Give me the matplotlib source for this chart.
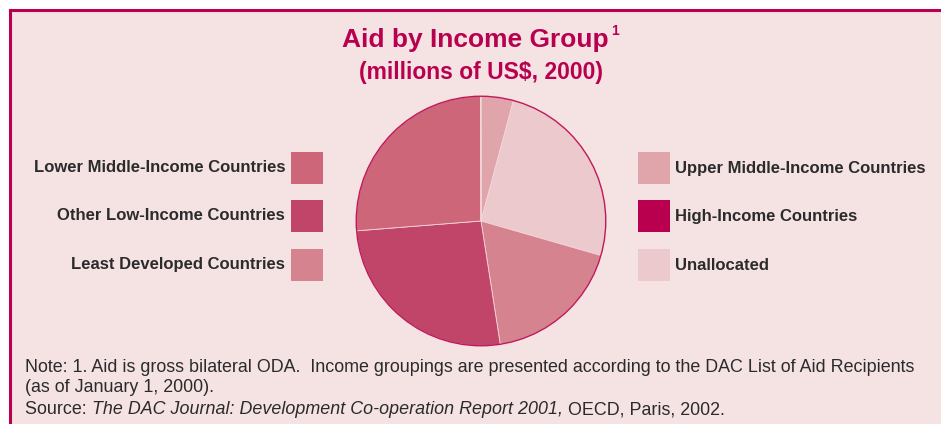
import matplotlib
matplotlib.use("Agg")
import matplotlib.pyplot as plt
from matplotlib.patches import Rectangle, Circle

# data (millions of US$)
groups = ["Upper Middle-Income Countries", "Unallocated", "Least Developed Countries",
          "Other Low-Income Countries", "Lower Middle-Income Countries", "High-Income Countries"]
values = [1510, 9100, 6510, 9440, 9440, 15]
colors = ["#e0a4ab", "#ecc9cd", "#d5838f", "#c14569", "#cd6679", "#b8004f"]

left_legend = ["Lower Middle-Income Countries", "Other Low-Income Countries", "Least Developed Countries"]
right_legend = ["Upper Middle-Income Countries", "High-Income Countries", "Unallocated"]

W, H = 941, 424
BG = "#f5e3e4"
ACCENT = "#b8004f"
DARK = "#2b2b2b"

fig = plt.figure(figsize=(W / 100, H / 100), dpi=100)
fig.patch.set_facecolor("white")

def fx(x):
    return x / W

def fy(y):
    return 1 - y / H

# panel background and border
fig.patches.append(Rectangle((fx(10), 0), 1 - fx(10), fy(10), transform=fig.transFigure,
                             facecolor=BG, edgecolor="none", zorder=-5))
fig.add_artist(plt.Line2D([fx(10), fx(10)], [0, fy(10)], color=ACCENT, lw=2.2))
fig.add_artist(plt.Line2D([fx(10), 1], [fy(10), fy(10)], color=ACCENT, lw=2.2))

# title, fitted to its width in the reference, then the footnote mark
title = fig.text(fx(342), fy(40), "Aid by Income Group", ha="left", va="center",
                 fontsize=20, fontweight="bold", color=ACCENT, family="Liberation Sans")
fig.canvas.draw()
tw = title.get_window_extent().width
title.set_fontsize(20 * 267 / tw)
fig.canvas.draw()
tb = title.get_window_extent()
fig.text((tb.x1 + 2) / W, fy(31), "1", ha="left", va="center",
         fontsize=10, fontweight="bold", color=ACCENT, family="Liberation Sans")
fig.text(fx(481), fy(72), "(millions of US$, 2000)", ha="center", va="center",
         fontsize=16.5, fontweight="bold", color=ACCENT, family="Liberation Sans")

# pie
cx, cy, r = 481, 221, 126
ax = fig.add_axes([fx(cx - r), fy(cy + r), (2 * r) / W, (2 * r) / H], zorder=2)
ax.set_facecolor("none")
ax.pie(values, colors=colors, startangle=90, counterclock=False,
       wedgeprops=dict(edgecolor="#f3d6da", linewidth=0.6))
ax.add_patch(Circle((0, 0), 1.0, facecolor="none", edgecolor="#c0185a", lw=1.0))
ax.set_xlim(-1.01, 1.01)
ax.set_ylim(-1.01, 1.01)
ax.set_aspect("equal")
ax.axis("off")

# legends
rows_y = [168, 216, 265]
box = 32
col = dict(zip(groups, colors))
for name, y in zip(left_legend, rows_y):
    fig.patches.append(Rectangle((fx(291), fy(y + box / 2)), box / W, box / H,
                                 transform=fig.transFigure, facecolor=col[name], edgecolor="none"))
    fig.text(fx(285), fy(y), name, ha="right", va="center", fontsize=12,
             fontweight="bold", color=DARK, family="Liberation Sans")
for name, y in zip(right_legend, rows_y):
    fig.patches.append(Rectangle((fx(638), fy(y + box / 2)), box / W, box / H,
                                 transform=fig.transFigure, facecolor=col[name], edgecolor="none"))
    fig.text(fx(675), fy(y), name, ha="left", va="center", fontsize=12,
             fontweight="bold", color=DARK, family="Liberation Sans")

# notes: fit the first line to its width in the reference
note_font = dict(color=DARK, family="Liberation Sans", va="center", ha="left")
line1 = fig.text(fx(25), fy(367), "Note: 1. Aid is gross bilateral ODA.  Income groupings are presented "
                 "according to the DAC List of Aid Recipients", fontsize=12, **note_font)
fig.canvas.draw()
w1 = line1.get_window_extent().width
fs = 12 * 891 / w1
line1.set_fontsize(fs)
fig.text(fx(25), fy(388), "(as of January 1, 2000).", fontsize=fs, **note_font)
src = fig.text(fx(25), fy(410), "Source: ", fontsize=fs, **note_font)
fig.canvas.draw()
bb = src.get_window_extent()
ital = fig.text(bb.x1 / W, fy(410), "The DAC Journal: Development Co-operation Report 2001,",
                style="italic", fontsize=fs, **note_font)
fig.canvas.draw()
bb2 = ital.get_window_extent()
fig.text(bb2.x1 / W, fy(410), " OECD, Paris, 2002.", fontsize=fs, **note_font)

fig.savefig("out.png", dpi=100, facecolor=fig.get_facecolor())
